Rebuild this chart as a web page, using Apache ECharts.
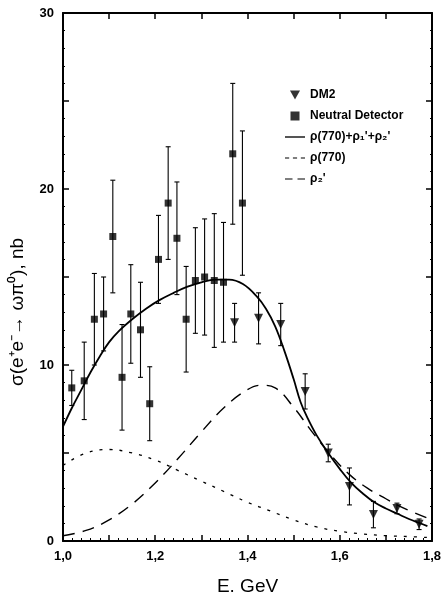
<!DOCTYPE html>
<html>
<head>
<meta charset="utf-8">
<script src="https://cdn.jsdelivr.net/npm/echarts@6/dist/echarts.min.js"></script>
<style>
html,body{margin:0;padding:0;background:#fff;}
#chart{width:445px;height:603px;}
</style>
</head>
<body>
<div id="chart"></div>
<script>
// Neutral Detector data
const neutralE = [1.019,1.046,1.068,1.088,1.108,1.128,1.147,1.168,1.188,1.207,1.228,1.247,1.267,1.287,1.307,1.328,1.348,1.368,1.389];
const neutralSigma = [8.7,9.1,12.6,12.9,17.3,9.3,12.9,12.0,7.8,16.0,19.2,17.2,12.6,14.8,15.0,14.8,14.7,22.0,19.2];
const neutralErr = [1.0,2.2,2.6,2.1,3.2,3.0,2.8,2.7,2.1,2.5,3.2,3.2,3.0,3.0,3.3,3.8,3.4,4.0,4.1];

// DM2 data
const dm2E = [1.372,1.424,1.472,1.525,1.575,1.621,1.673,1.724,1.772];
const dm2Sigma = [12.4,12.65,12.3,8.5,5.0,3.1,1.5,1.85,0.95];
const dm2Err = [1.1,1.45,1.2,1.0,0.5,1.05,0.75,0.3,0.3];

// Fit curves
const totalE = [1.0,1.02,1.04,1.06,1.08,1.10,1.12,1.15,1.18,1.21,1.24,1.27,1.30,1.33,1.36,1.39,1.42,1.44,1.46,1.48,1.50,1.515,1.53,1.55,1.575,1.60,1.625,1.65,1.675,1.70,1.725,1.75,1.775,1.79];
const totalSigma = [6.5,7.6,8.6,9.6,10.5,11.3,11.9,12.6,13.2,13.7,14.1,14.45,14.7,14.85,14.85,14.6,13.9,13.2,12.2,10.8,9.2,7.9,7.0,6.0,5.0,4.1,3.3,2.7,2.2,1.85,1.55,1.25,1.0,0.85];

const rho770E = [1.0,1.05,1.10,1.15,1.20,1.25,1.30,1.35,1.40,1.45,1.50,1.55,1.60,1.65,1.70,1.75,1.79];
const rho770Sigma = [4.3,5.0,5.2,5.0,4.6,4.0,3.4,2.8,2.2,1.7,1.2,0.8,0.55,0.4,0.3,0.25,0.2];

const rho2E = [1.0,1.05,1.10,1.15,1.20,1.25,1.30,1.35,1.40,1.43,1.46,1.50,1.54,1.58,1.62,1.66,1.70,1.74,1.79];
const rho2Sigma = [0.3,0.6,1.2,2.1,3.3,4.7,6.2,7.6,8.6,8.85,8.7,7.6,6.2,4.9,3.8,3.0,2.4,1.85,1.3];

const seriesNames = ['DM2','Neutral Detector',"ρ(770)+ρ\u2081'+ρ\u2082'",'ρ(770)',"ρ\u2082'"];

const pairs = (xs, ys) => xs.map((x,i)=>[x, ys[i]]);
const errRows = (xs, ys, es) => xs.map((x,i)=>[x, ys[i]-es[i], ys[i]+es[i]]);

function errorBar(params, api){
  const x = api.value(0);
  const lo = api.coord([x, api.value(1)]);
  const hi = api.coord([x, api.value(2)]);
  const w = 2.5;
  const st = {stroke:'#000', lineWidth:1.1};
  return {type:'group', children:[
    {type:'line', shape:{x1:lo[0],y1:lo[1],x2:hi[0],y2:hi[1]}, style:st},
    {type:'line', shape:{x1:lo[0]-w,y1:lo[1],x2:lo[0]+w,y2:lo[1]}, style:st},
    {type:'line', shape:{x1:hi[0]-w,y1:hi[1],x2:hi[0]+w,y2:hi[1]}, style:st}
  ]};
}

const FONT = '"Liberation Sans", Arial, sans-serif';
const chart = echarts.init(document.getElementById('chart'), null, {renderer:'canvas'});

const axisCommon = {
  axisLine:{show:true, onZero:false, lineStyle:{color:'#000', width:2}},
  splitLine:{show:false}
};

const legendIcons = [
  'path://M0,0L10,0L5,9Z',
  'path://M0,0h10v10h-10z',
  'path://M0,0h24v1.6h-24z',
  'path://M0,0h5v1.4h-5zM9.5,0h5v1.4h-5zM19,0h5v1.4h-5z',
  'path://M0,0h9v1.4h-9zM15,0h9v1.4h-9z'
];

chart.setOption({
  animation:false,
  backgroundColor:'#fff',
  grid:{left:61, right:13, top:13, bottom:62},
  legend:{
    orient:'vertical', left:280, top:84,
    itemWidth:20, itemHeight:9, itemGap:9,
    symbolKeepAspect:true,
    data:seriesNames.map((n,i)=>({name:n, icon:legendIcons[i], itemStyle:{color:'#000', borderWidth:0}})),
    textStyle:{fontFamily:FONT, fontWeight:'bold', fontSize:12, color:'#000'},
    selectedMode:false
  },
  xAxis:[
    Object.assign({}, axisCommon, {
      type:'value', min:1.0, max:1.8, interval:0.1, position:'bottom',
      name:'E. GeV', nameLocation:'middle', nameGap:36,
      nameTextStyle:{fontFamily:FONT, fontSize:19, color:'#000'},
      axisTick:{show:true, inside:true, length:6, lineStyle:{color:'#000', width:1.5}},
      minorTick:{show:true, splitNumber:5, length:3, lineStyle:{color:'#000'}},
      axisLabel:{margin:9, fontFamily:FONT, fontWeight:'bold', fontSize:13, color:'#000',
        formatter:v => (Math.round(v*10)%2===0) ? v.toFixed(1).replace('.',',') : ''}
    }),
    Object.assign({}, axisCommon, {
      type:'value', min:1.0, max:1.8, interval:0.1, position:'top',
      axisTick:{show:true, inside:true, length:6, lineStyle:{color:'#000', width:1.5}},
      axisLabel:{show:false}
    })
  ],
  yAxis:[
    Object.assign({}, axisCommon, {
      type:'value', min:0, max:30, interval:5, position:'left',
      name:'σ(e⁺e⁻→ ωπ⁰), nb', nameLocation:'middle', nameGap:36,
      nameTextStyle:{fontFamily:FONT, fontSize:19, color:'#000', padding:[0,70,0,0]},
      axisTick:{show:true, inside:true, length:6, lineStyle:{color:'#000', width:1.5}},
      minorTick:{show:true, splitNumber:5, length:2, lineStyle:{color:'#000'}},
      axisLabel:{margin:9, fontFamily:FONT, fontWeight:'bold', fontSize:13, color:'#000',
        formatter:v => (v%10===0) ? String(v) : ''}
    }),
    Object.assign({}, axisCommon, {
      type:'value', min:0, max:30, interval:5, position:'right',
      axisTick:{show:true, inside:true, length:6, lineStyle:{color:'#000', width:1.5}},
      minorTick:{show:true, splitNumber:5, length:2, lineStyle:{color:'#000'}},
      axisLabel:{show:false}
    })
  ],
  series:[
    {
      name:'errDM2', type:'custom', renderItem:errorBar, z:3,
      encode:{x:0, y:[1,2]}, data:errRows(dm2E, dm2Sigma, dm2Err), silent:true
    },
    {
      name:'errND', type:'custom', renderItem:errorBar, z:3,
      encode:{x:0, y:[1,2]}, data:errRows(neutralE, neutralSigma, neutralErr), silent:true
    },
    {
      name:seriesNames[0], type:'scatter', symbol:'triangle', symbolRotate:180, symbolSize:[9,9],
      itemStyle:{color:'#000'}, z:5, data:pairs(dm2E, dm2Sigma)
    },
    {
      name:seriesNames[1], type:'scatter', symbol:'rect', symbolSize:7,
      itemStyle:{color:'#000'}, z:5, data:pairs(neutralE, neutralSigma)
    },
    {
      name:seriesNames[2], type:'line', smooth:0.4, symbol:'none', showSymbol:false,
      lineStyle:{color:'#000', width:1.8, type:'solid'}, itemStyle:{color:'#000'},
      data:pairs(totalE, totalSigma), z:4
    },
    {
      name:seriesNames[3], type:'line', smooth:0.4, symbol:'none', showSymbol:false,
      lineStyle:{color:'#000', width:1.3, type:[3,7]}, itemStyle:{color:'#000'},
      data:pairs(rho770E, rho770Sigma), z:4
    },
    {
      name:seriesNames[4], type:'line', smooth:0.4, symbol:'none', showSymbol:false,
      lineStyle:{color:'#000', width:1.4, type:[12,8]}, itemStyle:{color:'#000'},
      data:pairs(rho2E, rho2Sigma), z:4
    }
  ]
});
</script>
</body>
</html>
